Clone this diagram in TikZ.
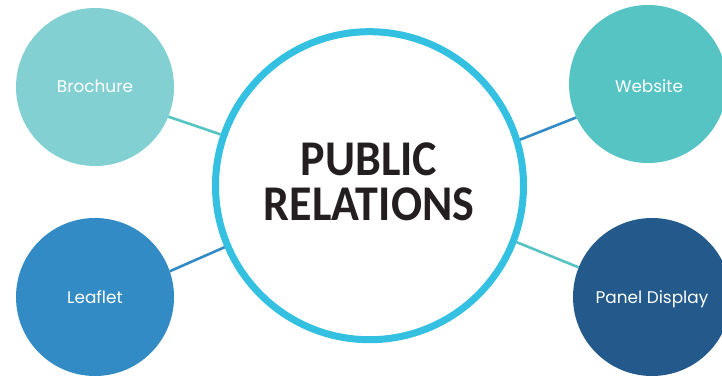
\documentclass[tikz,border=0pt]{standalone}
\usepackage{fontspec}
\setmainfont[FakeStretch=0.92]{Carlito}
\newfontfamily\lab{Poppins}
\definecolor{cA}{HTML}{83D0D3}
\definecolor{cB}{HTML}{57C4C4}
\definecolor{cC}{HTML}{338BC6}
\definecolor{cD}{HTML}{235A8B}
\definecolor{cR}{HTML}{34C0E0}
\definecolor{cT}{HTML}{231F20}
\newcommand{\lowered}[2]{\raisebox{-#1pt}[0pt][0pt]{#2}}
\tikzset{
 x=1pt,y=-1pt,
 sat/.style={circle,inner sep=0pt,minimum size=158pt,text=white,font=\lab\fontsize{16.9}{18}\selectfont},
 hub/.style={circle,draw=cR,line width=7pt,fill=white,minimum size=308pt,inner sep=0pt},
 link/.style={line width=2.6pt}
}
\begin{document}
\begin{tikzpicture}
\useasboundingbox (0,0) rectangle (722,379);
\fill[white] (0,0) rectangle (722,379);
\node[hub] (h) at (369.5,185.7) {};
\node[sat,fill=cA] (b) at (95,87) {\lowered{6}{Brochure}};
\node[sat,fill=cB] (w) at (648,84) {\hspace{2pt}\lowered{9}{Website}};
\node[sat,fill=cC] (l) at (95,297) {\lowered{6}{Leaflet}};
\node[sat,fill=cD] (p) at (652,297) {\lowered{6}{Panel Display}};
\draw[link,draw=cB] (b.-22.6) -- (h.161.7);
\draw[link,draw=cC] (w.205.9) -- (h.17);
\draw[link,draw=cC] (l.19.8) -- (h.203.6);
\draw[link,draw=cB] (p.158.6) -- (h.-21.9);
\node[font=\bfseries\fontsize{50}{45}\selectfont,align=center,text=cT] (t) at (369,182) {PUBLIC\\RELATIONS};
\end{tikzpicture}
\end{document}
